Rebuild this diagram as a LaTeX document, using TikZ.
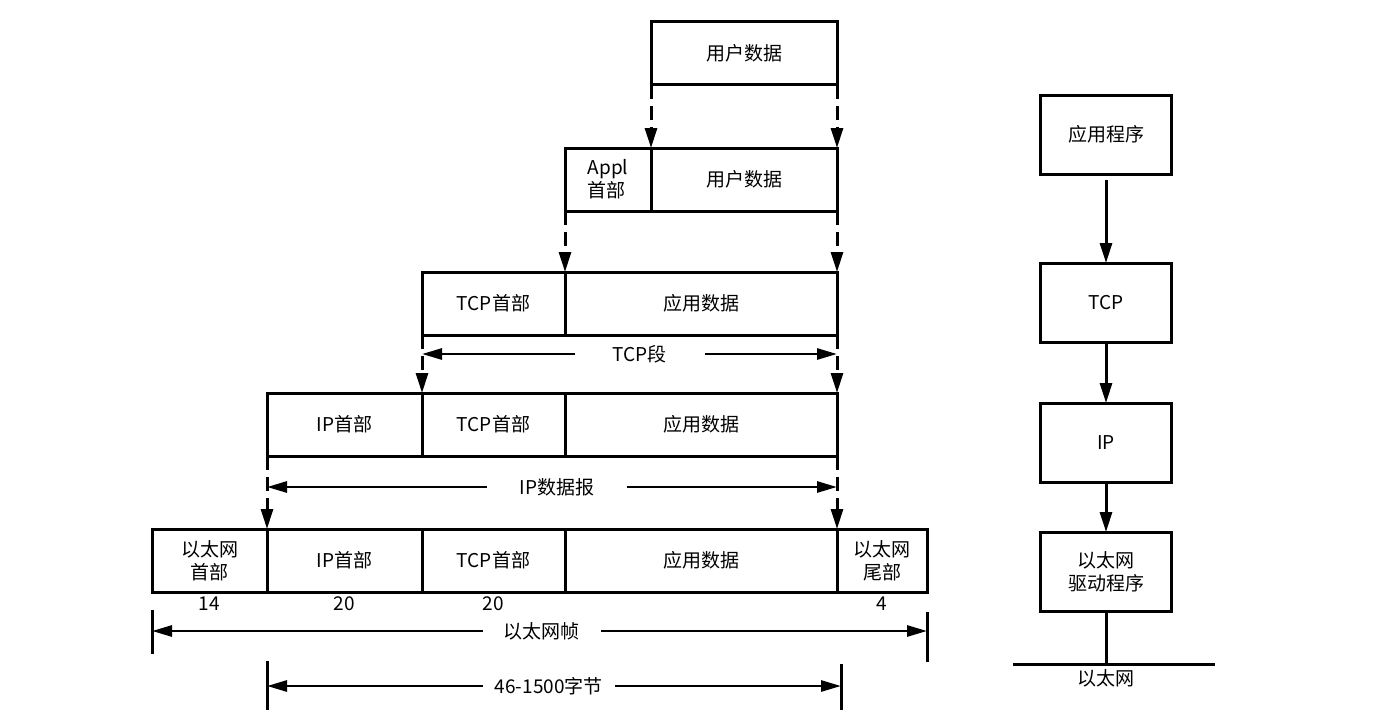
\documentclass[tikz,border=0pt]{standalone}
\usepackage{fontspec}
\setmainfont{Noto Sans CJK SC}
\usetikzlibrary{positioning,arrows.meta,calc}

\begin{document}
\begin{tikzpicture}[x=1pt, y=-1pt,
  font=\fontsize{19}{23}\selectfont,
  cell/.style={draw, line width=3pt, minimum height=63pt, minimum width=#1, inner sep=0pt, outer sep=0pt, align=center},
  layer/.style={draw, line width=3pt, minimum width=131pt, minimum height=79pt, inner sep=0pt, outer sep=0pt, align=center},
  dasharrow/.style={-{Triangle[length=20pt,width=12pt]}, line width=3pt, dash pattern=on 14pt off 7pt},
  dimarrow/.style={{Triangle[length=20pt,width=11pt]}-{Triangle[length=20pt,width=11pt]}, line width=2.8pt},
  downarrow/.style={-{Triangle[length=20pt,width=12pt]}, line width=3pt},
  tick/.style={line width=3pt},
  dimlabel/.style={fill=white, inner ysep=2pt, inner xsep=#1},
]
  \useasboundingbox (0,0) rectangle (1392,723);

  % user data
  \node[cell=186pt] (data1) at (744,53) {用户数据};

  % application layer
  \node[cell=86pt, align=left] (appl2) at (608,179.5) {Appl\\首部};
  \node[cell=186pt, right=0pt of appl2] (data2) {用户数据};

  % TCP segment
  \node[cell=143pt] (tcph3) at (493.5,303.5) {TCP首部};
  \node[cell=272pt, right=0pt of tcph3] (appd3) {应用数据};

  % IP datagram
  \node[cell=155pt] (iph4) at (344.5,424.5) {IP首部};
  \node[cell=143pt, right=0pt of iph4] (tcph4) {TCP首部};
  \node[cell=272pt, right=0pt of tcph4] (appd4) {应用数据};

  % Ethernet frame
  \node[cell=115pt] (eth5) at (209.5,560.5) {以太网\\首部};
  \node[cell=155pt, right=0pt of eth5] (iph5) {IP首部};
  \node[cell=143pt, right=0pt of iph5] (tcph5) {TCP首部};
  \node[cell=272pt, right=0pt of tcph5] (appd5) {应用数据};
  \node[cell=90pt, right=0pt of appd5] (etht5) {以太网\\尾部};

  % encapsulation
  \draw[dasharrow] (data1.south west) -- (data2.north west);
  \draw[dasharrow] (data1.south east) -- (data2.north east);
  \draw[dasharrow] (appl2.south west) -- (appd3.north west);
  \draw[dasharrow] (data2.south east) -- (appd3.north east);
  \draw[dasharrow] (tcph3.south west) -- (tcph4.north west);
  \draw[dasharrow] (appd3.south east) -- (appd4.north east);
  \draw[dasharrow] (iph4.south west) -- (iph5.north west);
  \draw[dasharrow] (appd4.south east) -- (appd5.north east);

  % lengths
  \draw[dimarrow] ($(tcph3.south west)+(0,19)$) -- node[pos=0.525, dimlabel=38pt] {TCP段} ($(appd3.south east)+(0,19)$);
  \draw[dimarrow] ($(iph4.south west)+(0,31)$) -- node[pos=0.509, dimlabel=33pt] {IP数据报} ($(appd4.south east)+(0,31)$);

  \node[below=1pt of eth5] (n14) {14};
  \node[below=1pt of iph5] (n20a) {20};
  \node[below=1pt of tcph5] (n20b) {20};
  \node[below=1pt of etht5] (n4) {4};

  \coordinate (fl) at ($(eth5.south west)+(0,39)$);
  \coordinate (fr) at ($(etht5.south east)+(0,39)$);
  \draw[tick] ($(fl)+(0,-21)$) -- ++(0,44);
  \draw[tick] ($(fr)+(0,-19)$) -- ++(0,50);
  \draw[dimarrow] (fl) -- node[pos=0.503, dimlabel=21pt] {以太网帧} (fr);

  \coordinate (bl) at ($(iph5.south west)+(0,94)$);
  \coordinate (br) at ($(appd5.south east)+(4,94)$);
  \draw[tick] ($(bl)+(0,-25)$) -- ++(0,49);
  \draw[tick] ($(br)+(0,-22)$) -- ++(0,46);
  \draw[dimarrow] (bl) -- node[pos=0.491, dimlabel=12pt] {46-1500字节} (br);

  % protocol stack
  \node[layer] (app) at (1106,134.5) {应用程序};
  \node[layer, below=89pt of app] (tcp) {TCP};
  \node[layer, below=61pt of tcp] (ip) {IP};
  \node[layer, below=50pt of ip] (drv) {以太网\\驱动程序};

  \draw[downarrow, shorten <=6pt] (app) -- (tcp);
  \draw[downarrow] (tcp) -- (ip);
  \draw[downarrow] (ip) -- (drv);

  \coordinate[below=53pt of drv] (bus);
  \draw[tick] (drv) -- (bus);
  \draw[tick] ($(bus)+(-93,0)$) -- ($(bus)+(109,0)$);
  \node[below=2pt of bus] (ethnet) {以太网};
\end{tikzpicture}
\end{document}
